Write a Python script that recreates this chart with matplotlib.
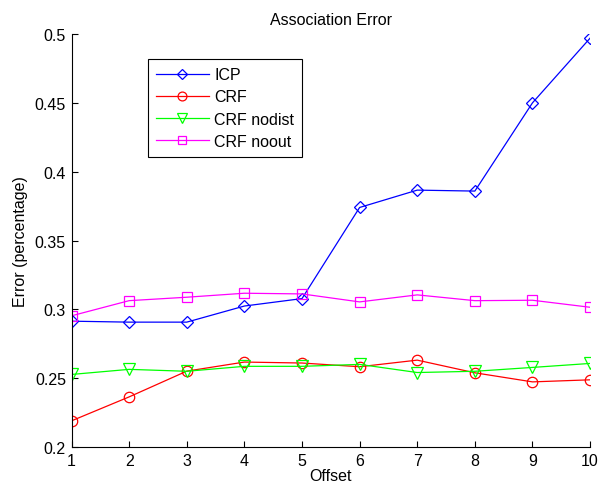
import matplotlib
matplotlib.use('Agg')
from matplotlib import pyplot as plt

offset = [1, 2, 3, 4, 5, 6, 7, 8, 9, 10]
icp = [0.2914, 0.2907, 0.2907, 0.3024, 0.3078, 0.3740, 0.3866, 0.3859, 0.4500, 0.4970]
crf = [0.2190, 0.2364, 0.2551, 0.2617, 0.2610, 0.2583, 0.2631, 0.2539, 0.2473, 0.2488]
crf_nodist = [0.2527, 0.2564, 0.2550, 0.2586, 0.2586, 0.2600, 0.2541, 0.2550, 0.2578, 0.2607]
crf_noout = [0.2953, 0.3063, 0.3088, 0.3117, 0.3112, 0.3054, 0.3105, 0.3063, 0.3066, 0.3015]

yticks = [0.2, 0.25, 0.3, 0.35, 0.4, 0.45, 0.5]
ytick_labels = ['0.2', '0.25', '0.3', '0.35', '0.4', '0.45', '0.5']

plt.rcParams['font.family'] = ['Liberation Sans', 'DejaVu Sans']
plt.rcParams['font.size'] = 11.5

fig = plt.figure(figsize=(6.03, 4.85), dpi=100)
ax = fig.add_axes([0.1186, 0.0763, 0.86, 0.8515])

kw = dict(linewidth=0.9, markerfacecolor='none', markeredgewidth=0.9)
ax.plot(offset, icp, color='#0000ff', marker='D', markersize=6, label='ICP', **kw)
ax.plot(offset, crf, color='#ff0000', marker='o', markersize=7.5, label='CRF', **kw)
ax.plot(offset, crf_nodist, color='#00ff00', marker='v', markersize=8.5, label='CRF nodist', **kw)
ax.plot(offset, crf_noout, color='#ff00ff', marker='s', markersize=6.5, label='CRF noout', **kw)

ax.set_xlim(1, 10)
ax.set_ylim(0.2, 0.5)
ax.set_xticks(offset)
ax.set_yticks(yticks)
ax.set_yticklabels(ytick_labels)
ax.tick_params(direction='in', length=4, width=0.8, labelsize=11.5, pad=4)

ax.spines['top'].set_visible(False)
ax.spines['right'].set_visible(False)

ax.set_title('Association Error', fontsize=11.5, pad=7)
ax.set_xlabel('Offset', fontsize=11.5, labelpad=0)
ax.set_ylabel('Error (percentage)', fontsize=11.5, labelpad=5)

leg = ax.legend(loc='upper left', bbox_to_anchor=(0.1475, 0.939), frameon=True, fancybox=False,
                edgecolor='black', framealpha=1, handlelength=3.3, fontsize=11.5,
                borderpad=0.5, labelspacing=0.45, handletextpad=0.35, borderaxespad=0,
                markerscale=0.85)
leg.get_frame().set_linewidth(0.8)

fig.savefig('out.png', dpi=100)
